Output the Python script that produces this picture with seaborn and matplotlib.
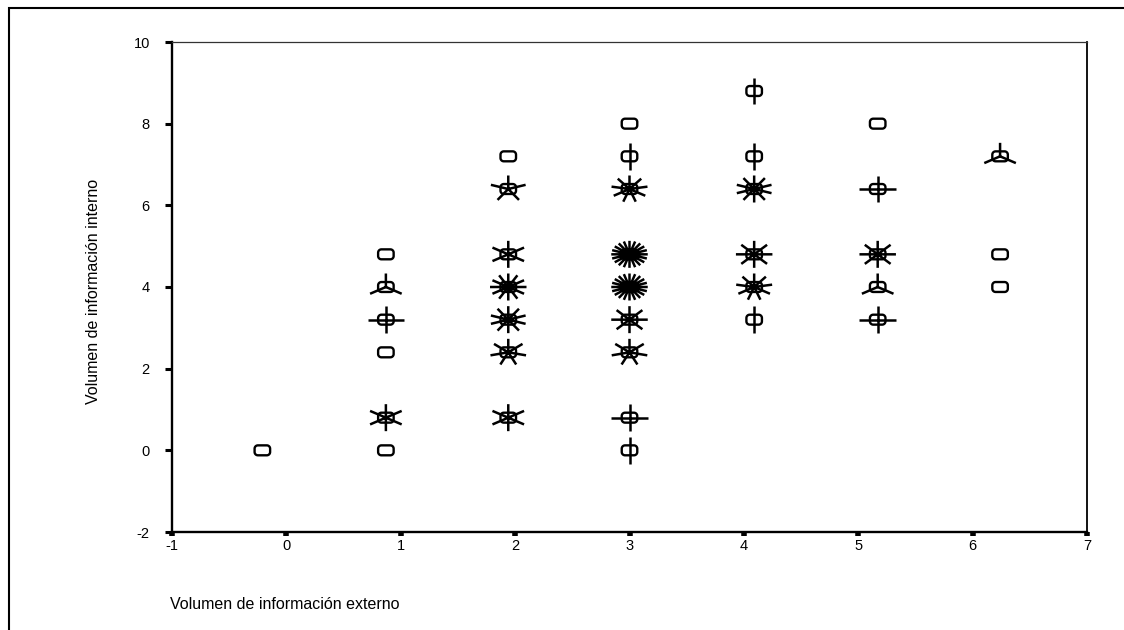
import numpy as np
import pandas as pd
import seaborn as sns
import matplotlib.pyplot as plt
from matplotlib.path import Path
from matplotlib.patches import Rectangle

# ─── Données (diagramme en tournesol) ───
col_x = [-0.21, 0.87, 1.94, 3.0, 4.09, 5.17, 6.24]
col_y = [
    [0.0],
    [4.8, 4.0, 3.2, 2.4, 0.8, 0.0],
    [7.2, 6.4, 4.8, 4.0, 3.2, 2.4, 0.8],
    [8.0, 7.2, 6.4, 4.8, 4.0, 3.2, 2.4, 0.8, 0.0],
    [8.8, 7.2, 6.4, 4.8, 4.0, 3.2],
    [8.0, 6.4, 4.8, 4.0, 3.2],
    [7.2, 4.8, 4.0],
]
col_n = [
    [1],
    [1, 3, 4, 1, 6, 1],
    [1, 5, 6, 12, 10, 7, 6],
    [1, 2, 9, 20, 20, 8, 7, 4, 2],
    [2, 2, 10, 8, 9, 2],
    [1, 4, 8, 3, 4],
    [3, 1, 1],
]
x_ticks = [-1, 0, 1, 2, 3, 4, 5, 6, 7]
y_ticks = [-2, 0, 2, 4, 6, 8, 10]

rows = [(x, y, n) for x, ys, ns in zip(col_x, col_y, col_n) for y, n in zip(ys, ns)]
df = pd.DataFrame(rows, columns=['externo', 'interno', 'n'])


def petal_path(n):
    # pétales partant du centre, le premier vers le haut
    verts = [(1, 1)]
    codes = [Path.MOVETO]
    for k in range(n):
        a = np.pi / 2 + 2 * np.pi * k / n
        verts += [(0, 0), (np.cos(a), 0.74 * np.sin(a))]
        codes += [Path.MOVETO, Path.LINETO]
    return Path(verts, codes)


def center_path(a=1.0, b=0.64, r=0.42):
    pts = []
    for cx, cy, t0 in [(a - r, b - r, 0), (-a + r, b - r, 90),
                       (-a + r, -b + r, 180), (a - r, -b + r, 270)]:
        t = np.radians(np.linspace(t0, t0 + 90, 8))
        pts += list(zip(cx + r * np.cos(t), cy + r * np.sin(t)))
    pts.append(pts[0])
    return Path(pts, [Path.MOVETO] + [Path.LINETO] * (len(pts) - 2) + [Path.CLOSEPOLY])


sns.set_style('white')
plt.rcParams['font.family'] = ['Liberation Sans', 'DejaVu Sans']
plt.rcParams['axes.unicode_minus'] = False

fig = plt.figure(figsize=(11.24, 6.3), dpi=100)
ax = fig.add_axes([172 / 1124, 1 - 532 / 630, 915 / 1124, 490 / 630])

# ─── Centres ───
sns.scatterplot(data=df, x='externo', y='interno', marker=center_path(),
                s=125, color='black', facecolor='none', edgecolor='black',
                linewidth=1.7, legend=False, ax=ax)

# ─── Pétales ───
df_p = df[df['n'] >= 2]
markers = {n: petal_path(n) for n in sorted(df_p['n'].unique())}
sns.scatterplot(data=df_p, x='externo', y='interno', style='n', markers=markers,
                s=690, color='black', facecolor='none', edgecolor='black',
                linewidth=1.8, legend=False, ax=ax)

ax.set_xlim(-1, 7)
ax.set_ylim(-2, 10)
ax.set_xticks(x_ticks)
ax.set_yticks(y_ticks)
ax.tick_params(axis='x', bottom=True, direction='out', length=3.0, width=4, pad=2,
               labelsize=10.5, color='black', labelcolor='black')
ax.tick_params(axis='y', left=True, direction='out', length=5.0, width=2.2, pad=11,
               labelsize=10.5, color='black', labelcolor='black')

for side in ['left', 'bottom']:
    ax.spines[side].set_color('black')
    ax.spines[side].set_linewidth(1.7)
ax.spines['top'].set_color('#333333')
ax.spines['top'].set_linewidth(0.9)
ax.spines['right'].set_color('black')
ax.spines['right'].set_linewidth(1.3)

ax.set_xlabel('Volumen de información externo', fontsize=11.5, loc='left',
              color='black')
ax.xaxis.set_label_coords(-0.002, -0.132)
ax.set_ylabel('Volumen de información interno', fontsize=11.5, color='black')
ax.yaxis.set_label_coords(-0.078, 0.49)

# cadre extérieur
fig.patches.append(Rectangle((9 / 1124, -0.2), 1.2, 1.2 - 8 / 630,
                             transform=fig.transFigure, fill=False,
                             edgecolor='black', linewidth=1.5, clip_on=False))

plt.savefig('out.png', dpi=100)
